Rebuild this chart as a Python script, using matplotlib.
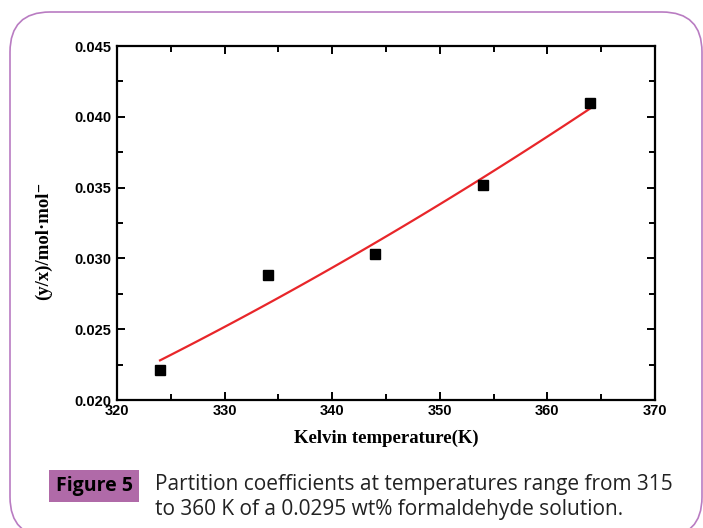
import numpy as np
import matplotlib.pyplot as plt
from matplotlib.patches import FancyBboxPatch
from matplotlib.transforms import IdentityTransform
from matplotlib.ticker import MultipleLocator

# partition coefficient vs temperature
temp_k = [324, 334, 344, 354, 364]
y_over_x = [0.0221, 0.0288, 0.0303, 0.0352, 0.0410]

# fitted curve through three read-off points
fit_t = [324, 344, 364]
fit_y = [0.0228, 0.0311, 0.0406]

caption_tag = "Figure 5"
caption_text = ("Partition coefficients at temperatures range from 315\n"
                "to 360 K of a 0.0295 wt% formaldehyde solution.")

fig = plt.figure(figsize=(7.03, 5.28), dpi=100)

# rounded frame around the whole figure
frame = FancyBboxPatch((10, -9), 692, 525, boxstyle="round,pad=0,rounding_size=40",
                       transform=IdentityTransform(), fill=False,
                       edgecolor="#b97cc2", linewidth=1.2)
fig.patches.append(frame)

ax = fig.add_axes([117 / 703, 1 - 400 / 528, 538 / 703, 354 / 528])

coef = np.polyfit(fit_t, fit_y, 2)
tt = np.linspace(fit_t[0], fit_t[-1], 100)
ax.plot(tt, np.polyval(coef, tt), color="#e8262a", lw=1.6)
ax.plot(temp_k, y_over_x, "s", color="black", ms=7)

ax.set_xlim(320, 370)
ax.set_ylim(0.020, 0.045)
ax.xaxis.set_major_locator(MultipleLocator(10))
ax.xaxis.set_minor_locator(MultipleLocator(5))
ax.yaxis.set_major_locator(MultipleLocator(0.005))
ax.yaxis.set_minor_locator(MultipleLocator(0.0025))
ax.yaxis.set_major_formatter(plt.FormatStrFormatter("%.3f"))

for s in ax.spines.values():
    s.set_linewidth(1.6)
ax.tick_params(which="both", direction="in", top=True, right=True, width=1.4)
ax.tick_params(which="major", length=6)
ax.tick_params(axis="x", which="major", pad=3)
ax.tick_params(axis="y", which="major", pad=4)
ax.tick_params(which="minor", length=4)
for lab in ax.get_xticklabels() + ax.get_yticklabels():
    lab.set_fontfamily("Liberation Sans")
    lab.set_fontweight("bold")
    lab.set_fontsize(10.5)

ax.set_xlabel("Kelvin temperature(K)", fontfamily="Liberation Serif",
              fontweight="bold", fontsize=13.5)
ax.set_ylabel("(y/x)/mol\u00b7mol\u207b", fontfamily=["Liberation Serif", "DejaVu Serif"],
              fontweight="bold", fontsize=13.5)
ax.xaxis.set_label_coords(0.5, -0.085)
ax.yaxis.set_label_coords(-0.12, 0.45)

fig.text(94 / 703, 1 - 486 / 528, caption_tag, fontfamily="Open Sans", fontweight="bold",
         fontsize=14, ha="center", va="center",
         bbox=dict(boxstyle="square,pad=0.32", facecolor="#b06aa8", edgecolor="none"))
fig.text(155 / 703, 1 - 497 / 528, caption_text, fontfamily="Open Sans", fontsize=15,
         ha="left", va="center", linespacing=1.3, color="#222222")

fig.savefig("out.png", dpi=100)
